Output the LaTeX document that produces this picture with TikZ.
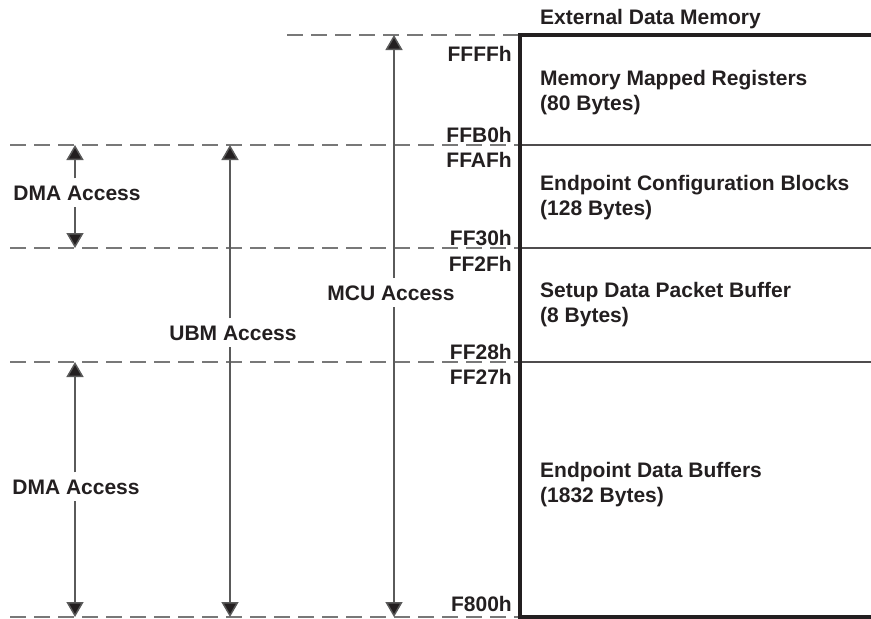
\documentclass[tikz,border=0pt]{standalone}
\usepackage{fontspec}
\setmainfont{Liberation Sans}
\usetikzlibrary{arrows.meta}
\definecolor{ink}{RGB}{35,31,32}
\definecolor{dashc}{RGB}{120,120,120}
\definecolor{shaft}{RGB}{90,90,90}
\begin{document}
\begin{tikzpicture}[x=1pt,y=-1pt,
  txt/.style={font=\fontsize{21}{25}\selectfont\bfseries, text=ink, inner sep=0pt},
  addr/.style={txt, anchor=base east},
  region/.style={txt, anchor=base west},
  acclabel/.style={txt, fill=white, inner xsep=2pt, inner ysep=7pt, anchor=base},
  dashline/.style={draw=dashc, line width=1.2pt, dash pattern=on 16pt off 8pt},
  thickline/.style={draw=ink, line width=4pt},
  thinline/.style={draw=ink!80, line width=1.3pt},
  accarrow/.style={draw=shaft, line width=1.5pt, -{Triangle[length=15pt,width=17pt,fill=ink]}}
]
\useasboundingbox (0,0) rectangle (871,619);

% levels
\coordinate (lt0) at (287,35);
\coordinate (l1) at (10,145);
\coordinate (l2) at (10,248);
\coordinate (l3) at (10,362);
\coordinate (l4) at (10,617);
\coordinate (b0) at (520,35);
\coordinate (b1) at (520,145);
\coordinate (b2) at (520,248);
\coordinate (b3) at (520,362);
\coordinate (b4) at (520,617);
\coordinate (r0) at (871,35);
\coordinate (r1) at (871,145);
\coordinate (r2) at (871,248);
\coordinate (r3) at (871,362);
\coordinate (r4) at (871,617);

% dashed level lines
\draw[dashline] (lt0) -- (b0);
\draw[dashline] (l1) -- (b1);
\draw[dashline] (l2) -- (b2);
\draw[dashline] (l3) -- (b3);
\draw[dashline] (l4) -- (b4);

% memory box
\draw[thinline] (b1) -- (r1);
\draw[thinline] (b2) -- (r2);
\draw[thinline] (b3) -- (r3);
\draw[thickline] ([xshift=-2pt]b0) -- (r0);
\draw[thickline] (b0) -- ([yshift=2pt]b4);
\draw[thickline] ([xshift=-2pt]b4) -- (r4);

% title
\node[region] (title) at (540,24) {External Data Memory};

% region texts
\node[region] (mmr1) at (540,85) {Memory Mapped Registers};
\node[region] (mmr2) at (540,110) {(80 Bytes)};
\node[region] (ecb1) at (540,190) {Endpoint Configuration Blocks};
\node[region] (ecb2) at (540,215) {(128 Bytes)};
\node[region] (sdp1) at (540,297) {Setup Data Packet Buffer};
\node[region] (sdp2) at (540,322) {(8 Bytes)};
\node[region] (edb1) at (540,477) {Endpoint Data Buffers};
\node[region] (edb2) at (540,502) {(1832 Bytes)};

% addresses
\node[addr] (a1) at (512,61) {FFFFh};
\node[addr] (a2) at (512,142) {FFB0h};
\node[addr] (a3) at (512,167) {FFAFh};
\node[addr] (a4) at (512,245) {FF30h};
\node[addr] (a5) at (512,271) {FF2Fh};
\node[addr] (a6) at (512,359) {FF28h};
\node[addr] (a7) at (512,384) {FF27h};
\node[addr] (a8) at (512,611) {F800h};

% access labels
\node[acclabel] (dma1) at (77,200) {DMA Access};
\node[acclabel] (dma2) at (76,494) {DMA Access};
\node[acclabel] (ubm) at (233,340) {UBM Access};
\node[acclabel] (mcu) at (391,300) {MCU Access};

% arrow endpoints
\coordinate (d1t) at (75,145);
\coordinate (d1b) at (75,248);
\coordinate (d2t) at (75,362);
\coordinate (d2b) at (75,617);
\coordinate (ut) at (230,145);
\coordinate (ub) at (230,617);
\coordinate (mt) at (394,35);
\coordinate (mb) at (394,617);

\draw[accarrow] (dma1.north -| d1t) -- (d1t);
\draw[accarrow] (dma1.south -| d1b) -- (d1b);
\draw[accarrow] (dma2.north -| d2t) -- (d2t);
\draw[accarrow] (dma2.south -| d2b) -- (d2b);
\draw[accarrow] (ubm.north -| ut) -- (ut);
\draw[accarrow] (ubm.south -| ub) -- (ub);
\draw[accarrow] (mcu.north -| mt) -- (mt);
\draw[accarrow] (mcu.south -| mb) -- (mb);
\end{tikzpicture}
\end{document}
